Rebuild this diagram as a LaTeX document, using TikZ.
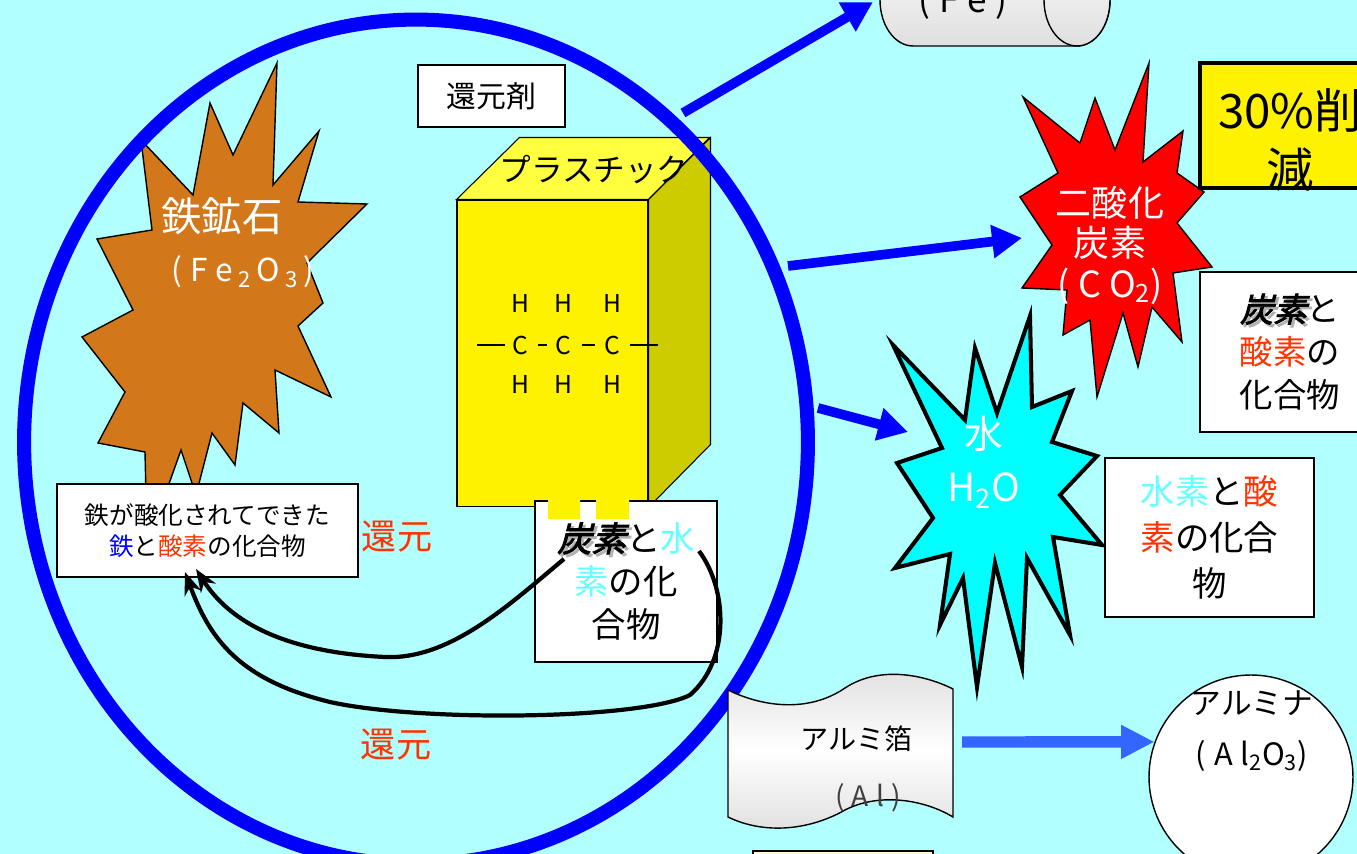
\documentclass[tikz,border=0pt]{standalone}
\usepackage{fontspec}
\setmainfont{Noto Sans CJK JP}
\newfontfamily\wideform[LetterSpace=25]{Noto Sans CJK JP}
\newfontfamily\slantbold[FakeSlant=0.25,FakeBold=2.5]{Noto Sans CJK JP}
\usetikzlibrary{arrows.meta}

\definecolor{bgcyan}{HTML}{B2FFFF}
\definecolor{orebrown}{HTML}{D2781A}
\definecolor{oxred}{HTML}{FF3300}
\definecolor{hydcyan}{HTML}{66FFFF}
\definecolor{watercyan}{HTML}{00FFFF}
\definecolor{foilblue}{HTML}{3366FF}
\definecolor{sideolive}{HTML}{CCCC00}
\definecolor{topyellow}{HTML}{FFFF40}
\definecolor{cream}{HTML}{FFFFCC}

\newcommand\shadowed[1]{{\slantbold\makebox[0pt][l]{\kern1.5pt\raisebox{-1.5pt}{\color{black!30}#1}}#1}}
\newcommand\oxy[1]{\textcolor{oxred}{#1}}
\newcommand\hyd[1]{\textcolor{hydcyan}{#1}}

\begin{document}
\begin{tikzpicture}[x=0.02cm, y=-0.02cm,
  txt/.style n args={2}{font=\fontsize{#1}{#2}\selectfont},
  textbox/.style={draw, fill=white, line width=1pt, align=center, inner sep=0pt},
  burst/.style={draw, line width=0.8pt, miter limit=20},
  whitetext/.style={text=white, align=center},
  ring/.style={draw=blue, line width=8pt},
  outflow/.style={draw=blue, line width=5.5pt, -{Triangle[length=17pt, width=18pt]}},
  reduce/.style={line width=2.4pt, -{Stealth[length=13pt, width=10pt]}},
  chem/.style={txt={14}{16}, inner sep=1pt},
  bond/.style={line width=0.8pt}]
\useasboundingbox (0,0) rectangle (1357,854);
\clip (0,0) rectangle (1357,854);
\fill[bgcyan] (0,0) rectangle (1357,854);

% iron ore
\draw[burst, fill=orebrown] (277,63) -- (273,185) -- (319,131) -- (298,202) -- (367,204)
  -- (307,263) -- (323,303) -- (298,326) -- (331,397) -- (275,370) -- (279,433)
  -- (243,403) -- (235,465) -- (212,433) -- (196,495) -- (181,450) -- (165,495)
  -- (146,495) -- (145,452) -- (98,443) -- (125,392) -- (82,337) -- (133,310)
  -- (97,239) -- (152,230) -- (141,140) -- (193,195) -- (210,103) -- (233,155) -- cycle;
\node[whitetext, txt={23}{28}] (orename) at (222,216) {鉄鉱石};
\node[whitetext, txt={18}{22}] (oreformula) at (243,272)
  {(\kern4.5pt F\kern4.5pt e\kern3pt\textsubscript{2}\kern3pt O\kern3pt\textsubscript{3}\kern3pt)};
\node[textbox, minimum width=6.02cm, minimum height=1.86cm, txt={14}{17.6}] (fobox) at (207.5,530.5)
  {鉄が酸化されてできた\\\textcolor{blue}{鉄}と\oxy{酸素}の化合物};

% plastic block
\node[draw, fill=yellow, line width=0.6pt, minimum width=3.82cm, minimum height=6.14cm, inner sep=0pt] (front) at (552.5,353.5) {};
\draw[fill=topyellow, line width=0.6pt] (front.north west) -- ++(63,-62) -- ++(190,0) -- (front.north east) -- cycle;
\draw[fill=sideolive, line width=0.6pt] (front.north east) -- ++(62,-62) -- ++(0,307) -- (front.south east) -- cycle;
\node[txt={18}{20}] (plastic) at (594,170) {プラスチック};
\foreach \x [count=\i] in {520,563,612} {
  \node[chem] (h\i) at (\x,303) {H};
  \node[chem] (c\i) at (\x,345) {C};
  \node[chem] (hb\i) at (\x,384) {H};
}
\draw[bond, shorten <=0.3cm] (c1.center) -- (477,345);
\draw[bond, shorten <=0.36cm, shorten >=0.32cm] (c1.center) -- (c2.center);
\draw[bond, shorten <=0.38cm, shorten >=0.34cm] (c2.center) -- (c3.center);
\draw[bond, shorten <=0.36cm] (c3.center) -- (658,345);

\node[textbox, minimum width=3.64cm, minimum height=3.22cm, txt={19.6}{24.5}] (chbox) at (626,581.5)
  {\shadowed{炭素}と\hyd{水}\\\hyd{素}の化\\合物};
\fill[yellow] (548,500) rectangle (580,519) (596,500) rectangle (629,519);

\node[textbox, minimum width=2.94cm, minimum height=1.24cm, txt={17}{20}] (agent) at (491.5,96) {還元剤};
\node[txt={20}{24}, text=oxred] (reduce1) at (397,537) {還元};
\node[txt={20}{24}, text=oxred] (reduce2) at (396,745) {還元};

\coordinate (startA) at (564,559);
\coordinate (startB) at (699,551);
\coordinate (tipA) at (196,569);
\coordinate (tipB) at (185,572);
\draw[reduce] (startA) .. controls (510,604) and (450,660) .. (385,657)
  .. controls (300,653) and (235,630) .. (tipA);
\draw[reduce] (startB) .. controls (728,590) and (730,660) .. (690,695)
  .. controls (640,720) and (420,722) .. (330,702)
  .. controls (240,680) and (210,640) .. (tipB);

% blast furnace ring and what leaves it
\draw[ring] (416,442) ellipse [x radius=7.84cm, y radius=8.45cm];
\coordinate (ring1) at (683,113);
\coordinate (ring2) at (788,266);
\coordinate (ring3) at (818,408);
\coordinate (ironend) at (873,2);
\coordinate (co2end) at (1022,238);
\coordinate (h2oend) at (908,432);
\draw[outflow] (ring1) -- (ironend);
\draw[outflow] (ring2) -- (co2end);
\draw[outflow] (ring3) -- (h2oend);

% iron
\draw[line width=0.8pt, top color=gray!5, bottom color=gray!25]
  (913,-46) arc[start angle=90, end angle=270, x radius=0.66cm, y radius=0.92cm]
  -- (1077,46) arc[start angle=270, end angle=450, x radius=0.66cm, y radius=0.92cm] -- cycle;
\draw[line width=0.8pt, top color=gray!5, bottom color=gray!25] (1077,0) ellipse [x radius=0.66cm, y radius=0.92cm];
\node[txt={20}{24}, anchor=base] (iron) at (963,13) {\wideform (Fe)};

% carbon dioxide
\draw[burst, fill=red] (1149,63) -- (1143,162) -- (1183,131) -- (1177,173) -- (1204,192)
  -- (1177,223) -- (1212,267) -- (1173,273) -- (1182,342) -- (1152,307) -- (1138,367)
  -- (1123,313) -- (1097,397) -- (1090,320) -- (1063,335) -- (1067,290) -- (1022,288)
  -- (1052,245) -- (1020,197) -- (1058,173) -- (1023,97) -- (1080,143) -- (1095,98)
  -- (1115,150) -- cycle;
\node[whitetext, txt={20.5}{23}] (co2) at (1110,245) {二酸化\\炭素\\{\wideform (CO\textsubscript{2})}};
\node[draw, fill=yellow, line width=2.3pt, minimum width=3.6cm, minimum height=2.5cm] (cutbox) at (1290,125.5) {};
\node[txt={27}{34}, align=center] (cut) at (1290,140) {30\%削\\減};
\node[textbox, minimum width=3.6cm, minimum height=3.2cm, txt={19}{24.4}] (cobox) at (1290,352)
  {\shadowed{炭素}と\\\oxy{酸素}の\\化合物};

% water
\draw[burst, fill=watercyan, line width=2.3pt] (1030,316) -- (1032,407) -- (1072,391) -- (1052,442)
  -- (1097,456) -- (1060,495) -- (1102,545) -- (1053,537) -- (1070,635) -- (1027,558)
  -- (1022,667) -- (995,563) -- (977,687) -- (963,578) -- (940,625) -- (950,554)
  -- (895,568) -- (933,518) -- (897,463) -- (942,448) -- (893,345) -- (965,420)
  -- (975,348) -- (997,413) -- cycle;
\node[whitetext, txt={22}{30}] (h2o) at (984,462) {水\\{\wideform H\textsubscript{2}O}};
\node[textbox, minimum width=4.18cm, minimum height=3.18cm, txt={19.6}{26}] (wbox) at (1209.5,537.5)
  {\hyd{水素}と\oxy{酸}\\\oxy{素}の化合\\物};

% aluminium foil
\draw[line width=0.8pt, top color=gray!25, bottom color=gray!25, middle color=white]
  (728,690) .. controls (765,708) and (810,712) .. (845,688)
  .. controls (880,665) and (925,675) .. (953,689) -- (953,817)
  .. controls (925,800) and (880,792) .. (845,810)
  .. controls (810,830) and (765,835) .. (728,817) -- cycle;
\node[txt={16}{20}] (foil) at (857,739) {アルミ箔};
\node[txt={16}{20}, text=black!75] (foilal) at (868,798) {\wideform (Al)};
\node[draw, circle, fill=white, line width=0.8pt, minimum size=4.08cm] (alumina) at (1251,777) {};
\node[txt={17.5}{29}, align=center] (aluminaname) at (1252,731) {アルミナ\\{\wideform (Al\textsubscript{2}O\textsubscript{3})}};
\coordinate (foilR) at (962,742);
\draw[draw=foilblue, line width=6.5pt, -{Triangle[length=19pt, width=18pt]}] (foilR) -- (alumina.160);

\draw[fill=cream, line width=0.8pt] (753,851) rectangle (933,880);
\end{tikzpicture}
\end{document}
